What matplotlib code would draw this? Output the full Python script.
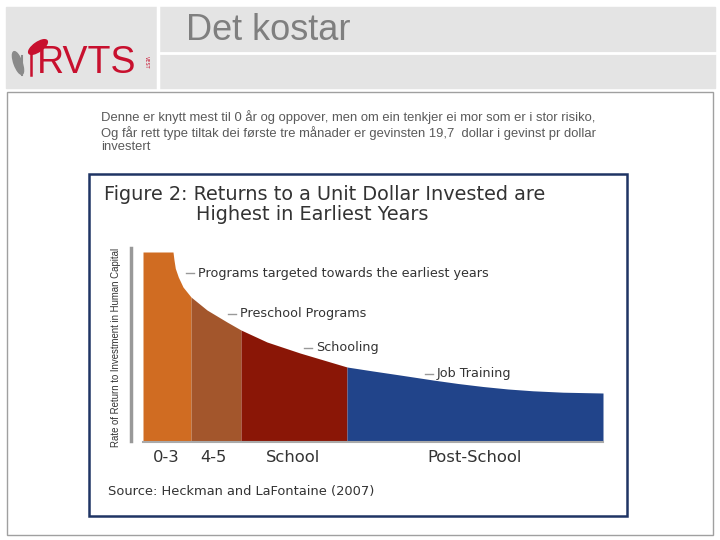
import numpy as np
import matplotlib.pyplot as plt
from matplotlib.patches import Rectangle, Ellipse

# curve of the return rate (x: position along age axis, y: return)
curve_x = [0, 30, 31, 32.3, 35.3, 40, 48, 64, 84, 98, 124, 157, 204, 230, 257, 290, 315, 340, 365, 390, 420, 460]
curve_y = [189, 189, 181, 172.7, 164, 154, 144, 131, 119, 111, 99, 88, 74, 70, 66, 61, 57.5, 54.5, 52, 50.2, 48.8, 48]

stages = ["0-3", "4-5", "School", "Post-School"]
stage_edges = [0, 48, 98, 204, 460]
stage_colors = ["#d06c22", "#a3562c", "#8a1606", "#21448a"]
stage_label_x = [23, 70, 150, 332]

notes = ["Programs targeted towards the earliest years", "Preschool Programs", "Schooling", "Job Training"]
note_x = [43, 85, 161, 282]
note_y = [168, 127, 93, 67]

slide_title = "Det kostar"
slide_text = ("Denne er knytt mest til 0 år og oppover, men om ein tenkjer ei mor som er i stor risiko,\n"
              "Og får rett type tiltak dei første tre månader er gevinsten 19,7  dollar i gevinst pr dollar\n"
              "investert")
fig_title = ["Figure 2: Returns to a Unit Dollar Invested are", "Highest in Earliest Years"]
ylabel = "Rate of Return to Investment in Human Capital"
source = "Source: Heckman and LaFontaine (2007)"

fig = plt.figure(figsize=(7.2, 5.4), dpi=100)

# slide background in pixel coords
bg = fig.add_axes([0, 0, 1, 1])
bg.set_xlim(0, 720)
bg.set_ylim(540, 0)
bg.axis('off')

bg.add_patch(Rectangle((6, 7), 709, 81, color="#e4e4e4", zorder=1))
bg.plot([158, 158], [7, 88], color="white", lw=2.5, zorder=2)
bg.plot([159, 715], [53, 53], color="white", lw=2, zorder=2)
bg.text(186, 30, slide_title, fontsize=26, color="#7f7f7f", family="Liberation Sans", va="center")

# logo
bg.add_patch(Ellipse((18, 63), 8, 24, angle=-20, color="#8a8a8a", zorder=3))
bg.plot([22, 22], [56, 75], color="#8a8a8a", lw=1.5, zorder=3)
bg.add_patch(Ellipse((38, 47), 9, 22, angle=55, color="#c8102e", zorder=3))
bg.plot([31, 31], [52, 75], color="#c8102e", lw=1.8, zorder=3)
bg.text(37, 63, "RVTS", fontsize=27, color="#c8102e", family="Liberation Sans",
        va="center", ha="left", zorder=3)
bg.text(146, 62, "VEST", fontsize=3.5, color="#c8102e", rotation=270, va="center", ha="center")

# content box
bg.add_patch(Rectangle((7, 92), 706, 443, facecolor="white", edgecolor="#a0a0a0", lw=1, zorder=1))
bg.text(101, 110, slide_text, fontsize=9.35, color="#5a5a5a", family="Liberation Sans",
        va="top", linespacing=1.18)

# chart frame
bg.add_patch(Rectangle((89, 174), 538, 342, facecolor="white", edgecolor="#1f3464", lw=1.8, zorder=2))
bg.text(104, 194, fig_title[0], fontsize=13.9, color="#333333", va="center", zorder=3)
bg.text(196, 214, fig_title[1], fontsize=13.9, color="#333333", va="center", zorder=3)
bg.text(108, 492, source, fontsize=9.4, color="#333333", va="center", zorder=3)
bg.text(116, 347, ylabel, fontsize=6.9, color="#333333", rotation=90, va="center", ha="center",
        family="Liberation Sans", zorder=3)

# chart itself
ax = fig.add_axes([131 / 720, 99 / 540, 472 / 720, 192 / 540])
ax.set_zorder(5)
ax.patch.set_alpha(0)
ax.set_xlim(-12, 460)
ax.set_ylim(0, 192)
ax.axis('off')

cx = np.array(curve_x)
cy = np.array(curve_y)
for i, name in enumerate(stages):
    m = (cx >= stage_edges[i]) & (cx <= stage_edges[i + 1])
    ax.fill_between(cx[m], 0, cy[m], color=stage_colors[i], lw=0)
    ax.text(stage_label_x[i], -16, name, ha="center", va="center", fontsize=11.8,
            color="#333333", clip_on=False)

ax.plot([-12, -12], [0, 193], color="#999999", lw=2.5, clip_on=False)
ax.plot([0, 460], [-0.5, -0.5], color="#aaaaaa", lw=1.5, clip_on=False)

for t, x, y in zip(notes, note_x, note_y):
    ax.plot([x, x + 8], [y, y], color="#999999", lw=1)
    ax.text(x + 12, y, t, fontsize=9.2, color="#333333", va="center", ha="left")

plt.savefig("out.png", dpi=100)
